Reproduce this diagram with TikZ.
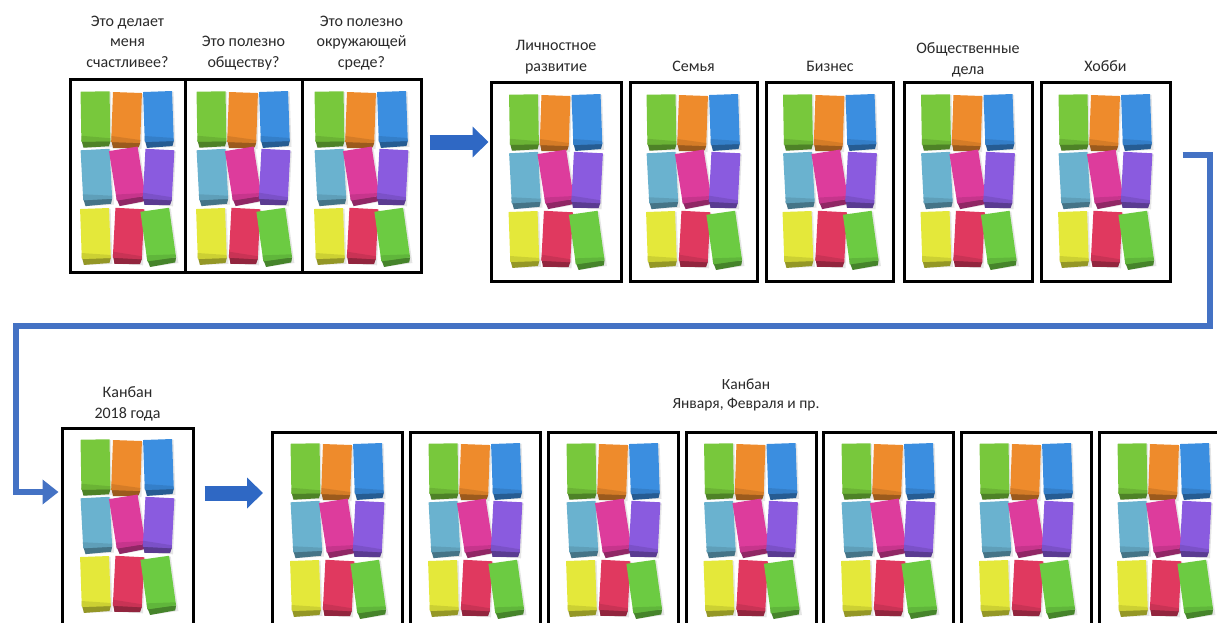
\documentclass[tikz,border=0pt]{standalone}
\usepackage{fontspec}
\setmainfont{Carlito}
\usetikzlibrary{arrows.meta,calc}
\definecolor{ngreen}{HTML}{78C83C}
\definecolor{norange}{HTML}{EE8B2C}
\definecolor{nblue}{HTML}{3B8EE0}
\definecolor{nlblue}{HTML}{6AB2CF}
\definecolor{nmag}{HTML}{DD3C9C}
\definecolor{npurp}{HTML}{8A5BDF}
\definecolor{nyel}{HTML}{E4E83A}
\definecolor{nred}{HTML}{E0395F}
\definecolor{ngreentwo}{HTML}{6CCB42}
\definecolor{loopblue}{HTML}{4472C4}
\definecolor{arrblue}{HTML}{2F68C4}
\definecolor{txt}{HTML}{2A2A2A}
\begin{document}
\begin{tikzpicture}[x=1pt,y=-1pt,
  board/.style={draw=black, line width=3pt, fill=white, inner sep=0pt},
  lbl/.style={anchor=south, inner sep=0pt, text depth=0pt, align=center, text=txt,
    font=\fontsize{16}{20.5}\selectfont},
  blockarrow/.style={draw=arrblue, line width=15pt, -{Triangle[length=16pt,width=30pt]}},
  loopline/.style={draw=loopblue, line width=5.5pt, line join=miter,
    -{Triangle[length=16pt,width=24pt]}},
  notes/.pic={
    \foreach \nx/\ny/\na/\nc in {-32/40/1/ngreen, -1/41/-2/norange, 31/40/2/nblue,
      -31/98/3/nlblue, 0/97/9/nmag, 31/98/-3/npurp,
      -32/157/2/nyel, 1/157/-3/nred, 31/158/8/ngreentwo}{
      \begin{scope}[shift={(\nx,\ny)}, rotate=\na]
        \fill[black!10] (-13,-26) rectangle (16,29);
        \fill[\nc!65!black] (-14.5,21) -- (14.5,23) -- (13,28) -- (-12.5,29) -- cycle;
        \fill[\nc] (-14.5,-27) rectangle (14.5,23);
        \fill[\nc!80!black, opacity=0.5] (-14.5,17) -- (14.5,20) -- (14.5,23) -- (-14.5,23) -- cycle;
      \end{scope}
    }
  }
]
\path[use as bounding box, clip] (0,0) rectangle (1217,623);
\fill[white] (0,0) rectangle (1217,623);

% top-left group
\node[board, minimum width=115, minimum height=192] (g1) at (127.5,176) {};
\node[board, minimum width=117, minimum height=192] (g2) at (243.5,176) {};
\node[board, minimum width=119, minimum height=192] (g3) at (361.5,176) {};
% top-right boards
\node[board, minimum width=130, minimum height=198] (p1) at (556,182) {};
\node[board, minimum width=127, minimum height=198] (p2) at (693.5,182) {};
\node[board, minimum width=127, minimum height=198] (p3) at (830,182) {};
\node[board, minimum width=128, minimum height=198] (p4) at (968,182) {};
\node[board, minimum width=129, minimum height=198] (p5) at (1105.5,182) {};
% bottom boards
\node[board, minimum width=131, minimum height=200] (k) at (127.5,528) {};
\foreach \i/\xx in {1/337.5, 2/475.5, 3/613.5, 4/751, 5/888.5, 6/1026.5, 7/1164.5}{
  \node[board, minimum width=130, minimum height=200] (b\i) at (\xx,532) {};
}

% notes
\foreach \n in {g1,g2,g3,p1,p2,p3,p4,p5,k,b1,b2,b3,b4,b5,b6,b7}{
  \pic at (\n.north) {notes};
}

% labels
\node[lbl] (lg1) at ([yshift=11pt]g1.north) {Это делает\\меня\\счастливее?};
\node[lbl] (lg2) at ([yshift=11pt]g2.north) {Это полезно\\обществу?};
\node[lbl] (lg3) at ([yshift=11pt]g3.north) {Это полезно\\окружающей\\среде?};
\node[lbl] (lp1) at ([yshift=10pt]p1.north) {Личностное\\развитие};
\node[lbl] (lp2) at ([yshift=10pt]p2.north) {Семья};
\node[lbl] (lp3) at ([yshift=10pt]p3.north) {Бизнес};
\node[lbl] (lp4) at ([yshift=7pt]p4.north) {Общественные\\дела};
\node[lbl] (lp5) at ([yshift=10pt]p5.north) {Хобби};
\node[lbl] (lk) at ([yshift=8pt]k.north) {Канбан\\2018 года};
\coordinate (bmid) at ($(b1.north)!0.5!(b7.north)$);
\node[lbl, font=\fontsize{15.5}{19}\selectfont] (lb) at ([xshift=-5pt,yshift=22pt]bmid) {Канбан\\Января, Февраля и пр.};

% arrows
\draw[blockarrow] ([xshift=7pt,yshift=34pt]g3.east) -- ([xshift=-1pt,yshift=40pt]p1.west);
\draw[blockarrow] ([xshift=10pt,yshift=35pt]k.east) -- ([xshift=-8pt,yshift=39pt]b1.west);
\draw[loopline] ([xshift=11pt,yshift=27pt]p5.east) -| (1210,326) -- (16,326)
  |- ([xshift=-2pt,yshift=36pt]k.west);
\end{tikzpicture}
\end{document}
